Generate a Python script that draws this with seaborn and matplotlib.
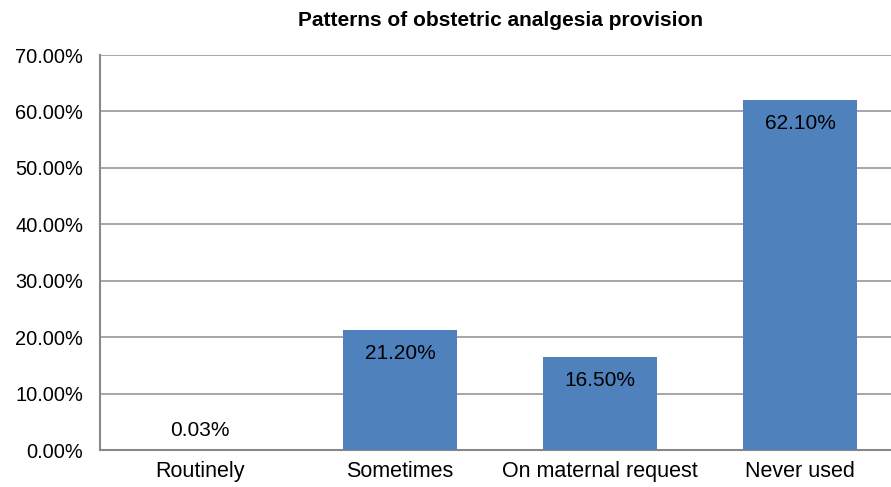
import numpy as np
import pandas as pd
import matplotlib.pyplot as plt
import seaborn as sns
from matplotlib.ticker import FuncFormatter

categories = ["Routinely", "Sometimes", "On maternal request", "Never used"]
values = [0.03, 21.20, 16.50, 62.10]
y_ticks = [0, 10, 20, 30, 40, 50, 60, 70]

sns.set_style("white")
plt.rcParams['font.family'] = ['Liberation Sans', 'DejaVu Sans']

df = pd.DataFrame({"category": categories, "value": values})

fig = plt.figure(figsize=(8.91, 4.87), dpi=100)
ax = fig.add_axes([100 / 891, 37 / 487, 800 / 891, 395 / 487])

sns.barplot(data=df, x="category", y="value", color="#4F81BD", width=0.57,
            saturation=1, linewidth=0, ax=ax, zorder=3)

ax.set_xlim(-0.5, 3.5)
ax.set_ylim(0, 70)
ax.set_yticks(y_ticks)
ax.yaxis.set_major_formatter(FuncFormatter(lambda v, p: f"{v:.2f}%"))
ax.grid(axis="y", color="#8e8e8e", linewidth=1.1, zorder=0)
ax.set_axisbelow(True)
ax.set_xlabel("")
ax.set_ylabel("")
ax.tick_params(axis="both", length=0, colors="black")
ax.tick_params(axis="y", pad=12, labelsize=14.4)
ax.tick_params(axis="x", pad=8, labelsize=15.5)

for side in ["top", "right"]:
    ax.spines[side].set_visible(False)
for side in ["left", "bottom"]:
    ax.spines[side].set_color("#888888")
    ax.spines[side].set_linewidth(1.5)

for i, v in enumerate(values):
    off = 14 if v < 5 else -17
    ax.annotate(f"{v:.2f}%", (i, v), xytext=(0, off), textcoords="offset points",
                ha="center", va="center", fontsize=15, color="black", zorder=4)

# title centred over the plot area, which runs past the right edge
fig.text(500 / 891, 1 - 20 / 487, "Patterns of obstetric analgesia provision",
         ha="center", va="center", fontsize=15, fontweight="bold", color="black")

fig.savefig("out.png", dpi=100)
